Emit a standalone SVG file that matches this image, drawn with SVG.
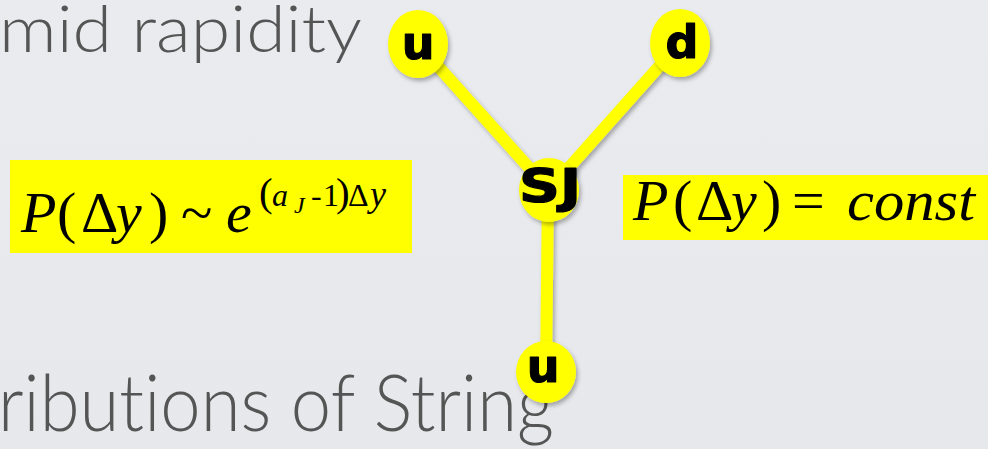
<svg xmlns="http://www.w3.org/2000/svg" width="988" height="449" viewBox="0 0 988 449">
<defs>
<filter id="sh" x="-30%" y="-30%" width="160%" height="160%">
<feDropShadow dx="2" dy="3" stdDeviation="2" flood-color="#000" flood-opacity="0.3"/>
</filter>
<linearGradient id="bg" x1="0" y1="0" x2="0" y2="1">
<stop offset="0" stop-color="#e9ebee"/>
<stop offset="1" stop-color="#e6e8eb"/>
</linearGradient>
</defs>
<style>
.slide{font-family:Lato,"Open Sans","Liberation Sans",sans-serif;font-weight:300;fill:#555555;font-variant-ligatures:none}
.box{fill:#ffff00}
.m{font-family:"Liberation Serif","Times New Roman",serif;fill:#000}
.i{font-style:italic}
.edge{stroke:#ffff00;stroke-width:12;stroke-linecap:round;fill:none}
.node ellipse{fill:#ffff00}
.node text{font-family:"DejaVu Sans",Verdana,sans-serif;font-weight:bold;font-size:46px;fill:#000;stroke:#000;stroke-width:1.2;stroke-linejoin:round;text-anchor:middle}
</style>
<rect width="988" height="449" fill="url(#bg)"/>
<text class="slide" x="-1" y="52" font-size="65" textLength="363" lengthAdjust="spacingAndGlyphs">mid rapidity</text>
<text class="slide" x="-2" y="431" font-size="78" textLength="556" lengthAdjust="spacingAndGlyphs">ributions of String</text>

<g id="formula-left">
<rect class="box" x="10" y="160" width="402" height="93"/>
<text class="m" y="232" font-size="58"><tspan class="i" x="21">P</tspan><tspan x="57">(</tspan><tspan x="81">Δ</tspan><tspan class="i" x="116">y</tspan><tspan x="149">)</tspan><tspan x="181">~</tspan><tspan class="i" x="226">e</tspan></text>
<text class="m" y="206" font-size="32"><tspan x="259" font-size="41">(</tspan><tspan class="i" x="272">a</tspan><tspan x="311">-</tspan><tspan x="323">1</tspan><tspan x="336" font-size="41">)</tspan><tspan x="348">Δ</tspan><tspan class="i" x="370" font-size="36">y</tspan></text>
<text class="m i" x="294" y="213" font-size="24">J</text>
</g>

<g id="formula-right">
<rect class="box" x="623" y="175" width="365" height="65"/>
<text class="m" y="220" font-size="58"><tspan class="i" x="633">P</tspan><tspan x="673">(</tspan><tspan x="696">Δ</tspan><tspan class="i" x="731">y</tspan><tspan x="762">)</tspan><tspan x="792">=</tspan></text>
<text class="m i" x="847" y="220" font-size="58" textLength="128" lengthAdjust="spacingAndGlyphs">const</text>
</g>

<g id="connectors" filter="url(#sh)">
<line class="edge" x1="418" y1="44" x2="549" y2="190"/>
<line class="edge" x1="680" y1="43" x2="549" y2="190"/>
<line class="edge" x1="548" y1="190" x2="546" y2="372"/>
</g>

<g id="node-u-top" class="node" filter="url(#sh)">
<ellipse cx="418" cy="44" rx="30" ry="34"/>
<text x="418" y="59">u</text>
</g>
<g id="node-d" class="node" filter="url(#sh)">
<ellipse cx="680" cy="43" rx="30" ry="34"/>
<text x="682" y="58">d</text>
</g>
<g id="node-sj" class="node" filter="url(#sh)">
<ellipse cx="549" cy="190" rx="30" ry="32"/>
<text x="550" y="202" textLength="62" lengthAdjust="spacingAndGlyphs">SJ</text>
</g>
<g id="node-u-bottom" class="node" filter="url(#sh)">
<ellipse cx="546" cy="372" rx="30" ry="31"/>
<text x="543" y="382">u</text>
</g>
</svg>
